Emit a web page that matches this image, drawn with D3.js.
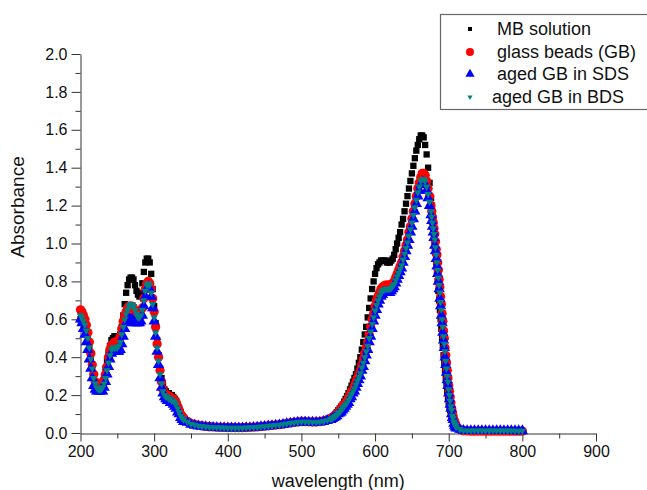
<!DOCTYPE html>
<html><head><meta charset="utf-8">
<script src="https://cdn.jsdelivr.net/npm/d3@7"></script>
<style>body{margin:0;background:#fff} text{font-family:Arial,"Liberation Sans",sans-serif}</style>
</head><body><svg id="c" width="647" height="490"></svg>
<script>
// wavelength sampling (nm)
const wavelengths = [].concat(d3.range(200,341,2), d3.range(345,536,5), d3.range(540,675,2), d3.range(676,711,1), d3.range(715,801,5));

const seriesNames = ["MB solution","glass beads (GB)","aged GB in SDS","aged GB in BDS"];
const xTicks = [200,300,400,500,600,700,800,900];
const xMinorTicks = [250,350,450,550,650,750,850];
const yTicks = [0,0.2,0.4,0.6,0.8,1.0,1.2,1.4,1.6,1.8,2.0];
const yMinorTicks = [0.1,0.3,0.5,0.7,0.9,1.1,1.3,1.5,1.7,1.9];

const mbSolution = [
.60,.60,.59,.57,.54,.50,.45,.40,.35,.30,
.27,.25,.24,.24,.25,.27,.30,.34,.38,.42,
.46,.49,.50,.51,.51,.51,.51,.52,.56,.62,
.68,.74,.78,.81,.82,.82,.81,.78,.75,.73,
.72,.74,.79,.85,.90,.92,.92,.90,.84,.76,
.67,.58,.49,.41,.34,.29,.25,.23,.22,.21,
.21,.20,.20,.19,.18,.17,.15,.13,.11,.09,
.08,
.065,.05,.045,.04,.037,.034,.032,.031,.03,.029,
.029,.028,.028,.027,.027,.027,.028,.029,.03,.031,
.033,.035,.037,.039,.041,.043,.046,.049,.052,.055,
.057,.059,.059,.058,.058,.059,.062,.067,.073,
.08,.085,.09,.10,.11,.12,.13,.14,.15,.165,
.18,.195,.21,.23,.25,.27,.29,.31,.34,.37,
.40,.44,.48,.52,.56,.61,.66,.71,.76,.80,
.84,.87,.89,.90,.91,.91,.91,.91,.90,.90,
.90,.91,.92,.94,.97,1.00,1.03,1.06,1.10,1.13,
1.17,1.21,1.25,1.29,1.33,1.37,1.41,1.45,1.49,1.52,
1.55,1.57,1.57,1.56,1.52,1.47,1.40,1.32,
1.24,1.20,1.15,1.10,1.05,1.00,.95,.90,.85,.80,
.75,.70,.65,.60,.55,.50,.46,.41,.37,.33,
.29,.26,.22,.19,.16,.14,.12,.10,.08,.07,
.05,.04,.035,.03,.025,
.018,.01,.009,.009,.009,.009,.009,.009,.009,.009,.009,.009,.009,.009,.009,.009,.009,.009
];

const glassBeads = [
.65,.64,.62,.60,.57,.53,.48,.42,.36,.31,
.27,.25,.24,.24,.24,.25,.28,.31,.35,.40,
.44,.46,.47,.48,.48,.48,.49,.51,.55,.59,
.62,.64,.66,.67,.67,.67,.66,.64,.62,.61,
.61,.62,.66,.71,.76,.79,.80,.79,.76,.71,
.64,.56,.47,.40,.33,.27,.23,.21,.20,.20,
.19,.19,.18,.18,.17,.16,.14,.12,.10,.09,
.08,
.06,.05,.045,.04,.038,.035,.033,.032,.031,.03,
.03,.029,.029,.028,.028,.028,.029,.03,.031,.032,
.034,.036,.038,.04,.042,.044,.047,.05,.053,.056,
.058,.06,.06,.059,.058,.058,.06,.064,.07,
.077,.082,.088,.095,.10,.11,.12,.13,.14,.15,
.16,.17,.19,.20,.22,.23,.25,.27,.29,.31,
.33,.36,.39,.42,.45,.48,.52,.56,.60,.63,
.67,.70,.72,.74,.76,.77,.775,.78,.78,.78,
.78,.785,.79,.80,.82,.84,.86,.88,.90,.93,
.96,.99,1.02,1.06,1.09,1.13,1.17,1.21,1.25,1.29,
1.32,1.35,1.37,1.37,1.36,1.33,1.29,1.25,
1.20,1.17,1.14,1.11,1.08,1.05,1.01,.97,.94,.90,
.86,.81,.77,.72,.68,.63,.59,.54,.50,.45,
.41,.37,.33,.29,.25,.22,.19,.16,.13,.11,
.09,.07,.06,.05,.04,
.02,.012,.011,.01,.01,.01,.01,.01,.01,.01,.01,.01,.01,.01,.01,.01,.01,.01
];

const agedSDS = [
.60,.58,.55,.52,.48,.44,.39,.34,.29,.25,
.23,.22,.22,.22,.22,.22,.24,.27,.31,.35,
.39,.42,.43,.43,.43,.43,.43,.44,.47,.51,
.55,.58,.59,.60,.60,.60,.59,.58,.58,.58,
.58,.59,.62,.67,.72,.76,.77,.76,.72,.66,
.59,.51,.43,.36,.29,.24,.21,.19,.18,.17,
.17,.16,.16,.15,.14,.13,.11,.10,.08,.07,
.06,
.055,.045,.04,.036,.034,.032,.03,.029,.028,.027,
.027,.026,.026,.026,.026,.026,.027,.028,.029,.03,
.032,.034,.036,.038,.04,.042,.045,.048,.051,.054,
.056,.058,.058,.057,.056,.056,.057,.06,.065,
.07,.075,.08,.085,.09,.10,.105,.11,.12,.13,
.14,.15,.16,.18,.19,.21,.22,.24,.26,.28,
.30,.33,.35,.38,.41,.44,.48,.51,.55,.59,
.62,.65,.68,.70,.72,.73,.74,.74,.74,.74,
.74,.75,.76,.77,.79,.81,.83,.85,.87,.90,
.93,.96,.99,1.02,1.06,1.09,1.13,1.17,1.21,1.25,
1.28,1.31,1.32,1.32,1.31,1.28,1.24,1.20,
1.15,1.12,1.09,1.06,1.03,.99,.96,.92,.88,.84,
.80,.76,.71,.67,.62,.58,.53,.49,.45,.40,
.36,.32,.28,.25,.21,.18,.15,.13,.10,.08,
.07,.05,.04,.03,.025,
.018,.013,.012,.012,.012,.012,.012,.012,.012,.012,.012,.012,.012,.012,.012,.011,.011,.011
];

const agedBDS = [
.62,.61,.59,.57,.54,.50,.45,.39,.34,.29,
.26,.24,.23,.23,.23,.24,.26,.29,.33,.37,
.41,.44,.45,.45,.45,.45,.46,.48,.52,.56,
.60,.63,.65,.67,.68,.68,.67,.65,.63,.61,
.61,.62,.65,.70,.75,.78,.79,.78,.74,.68,
.61,.53,.45,.38,.31,.26,.22,.20,.19,.19,
.18,.18,.17,.17,.16,.15,.13,.11,.09,.08,
.07,
.058,.048,.043,.038,.036,.033,.031,.03,.029,.028,
.028,.027,.027,.027,.027,.027,.028,.029,.03,.031,
.033,.035,.037,.039,.041,.043,.046,.049,.052,.055,
.057,.059,.059,.058,.057,.057,.058,.062,.067,
.073,.078,.084,.09,.095,.105,.11,.12,.13,.14,
.15,.16,.175,.19,.205,.22,.235,.255,.275,.295,
.315,.345,.37,.40,.43,.46,.50,.535,.575,.61,
.645,.675,.70,.72,.74,.75,.755,.76,.76,.76,
.76,.765,.775,.785,.805,.825,.845,.865,.885,.915,
.945,.975,1.005,1.04,1.075,1.11,1.15,1.19,1.23,1.27,
1.30,1.33,1.34,1.34,1.33,1.30,1.26,1.22,
1.17,1.14,1.11,1.08,1.05,1.02,.98,.94,.90,.86,
.82,.78,.74,.69,.65,.60,.56,.51,.47,.43,
.38,.34,.30,.27,.23,.20,.17,.14,.12,.09,
.08,.06,.05,.04,.03,
.02,.013,.012,.012,.012,.012,.012,.012,.012,.012,.012,.012,.012,.012,.012,.011,.011,.011
];

const svg = d3.select("#c");
const x = d3.scaleLinear().domain([200,900]).range([80.5,596]);
const y = d3.scaleLinear().domain([0,2]).range([433,54]);

const styles = [
  {data: mbSolution, type: d3.symbolSquare, size: 40, color: "#000000", rot: 0, legSize: 16},
  {data: glassBeads, type: d3.symbolCircle, size: 68, color: "#ff0000", rot: 0, legSize: 50},
  {data: agedSDS, type: d3.symbolTriangle, size: 56, color: "#0000ff", rot: 0, legSize: 36},
  {data: agedBDS, type: d3.symbolTriangle, size: 24, color: "#008080", rot: 180, legSize: 12}
];

// axes
svg.append("g").attr("transform","translate(80.5,0)")
  .call(d3.axisLeft(y).tickValues(yTicks).tickSize(9).tickSizeOuter(0).tickPadding(4).tickFormat(d3.format(".1f")));
svg.append("g").attr("transform","translate(80.5,0)")
  .call(d3.axisLeft(y).tickValues(yMinorTicks).tickSize(5).tickFormat("")).select(".domain").remove();
svg.append("g").attr("transform","translate(0,433.5)")
  .call(d3.axisBottom(x).tickValues(xTicks).tickSize(8).tickSizeOuter(0).tickPadding(4).tickFormat(d3.format("d")));
svg.append("g").attr("transform","translate(0,433.5)")
  .call(d3.axisBottom(x).tickValues(xMinorTicks).tickSize(5).tickFormat("")).select(".domain").remove();
svg.selectAll(".tick text").attr("font-size",16).attr("fill","#111").attr("font-family","Arial, 'Liberation Sans', sans-serif");
svg.selectAll(".domain, .tick line").attr("stroke","#333");

// markers
styles.forEach(s => {
  const sym = d3.symbol().type(s.type).size(s.size)();
  svg.append("g").selectAll("path").data(wavelengths).join("path")
    .attr("d", sym)
    .attr("fill", s.color)
    .attr("transform", (w,i) => `translate(${x(w)},${y(s.data[i])}) rotate(${s.rot})`);
});

// axis titles
svg.append("text").attr("x", (x(200)+x(900))/2).attr("y", 487).attr("text-anchor","middle")
  .attr("font-size",18).attr("fill","#111").text("wavelength (nm)");
svg.append("text").attr("transform","translate(24,207) rotate(-90)").attr("text-anchor","middle")
  .attr("font-size",19).attr("fill","#111").text("Absorbance");

// legend
const leg = svg.append("g");
leg.append("rect").attr("x",440.5).attr("y",14.5).attr("width",215).attr("height",95)
  .attr("fill","#fff").attr("stroke","#666").attr("stroke-width",1.2);
const legY = [29,52,74,97];
const legTx = [497,497,497,492];
styles.forEach((s,i) => {
  leg.append("path").attr("d", d3.symbol().type(s.type).size(s.legSize)())
    .attr("fill", s.color).attr("transform", `translate(470,${legY[i]}) rotate(${s.rot})`);
  leg.append("text").attr("x", legTx[i]).attr("y", legY[i]).attr("dy","0.35em")
    .attr("font-size",18).attr("fill","#111").text(seriesNames[i]);
});
</script></body></html>
